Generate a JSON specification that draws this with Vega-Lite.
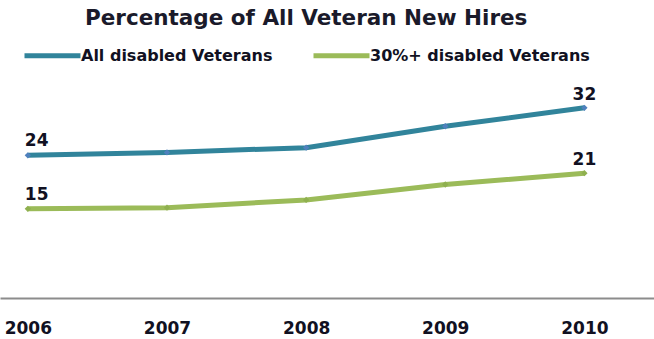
{
  "$schema": "https://vega.github.io/schema/vega-lite/v6.json",
  "width": 654,
  "height": 208,
  "autosize": {"type": "none"},
  "padding": {"left": 0, "top": 90, "right": 0, "bottom": 41},
  "background": "white",
  "title": {
    "text": "Percentage of All Veteran New Hires",
    "anchor": "start",
    "frame": "group",
    "dx": 85,
    "offset": -4,
    "font": "DejaVu Sans",
    "fontSize": 21.5,
    "fontWeight": "bold",
    "color": "#1a1a2a"
  },
  "config": {"view": {"stroke": null}},
  "data": {
    "values": [
      {"year": 2006, "series": "All disabled Veterans", "value": 24},
      {"year": 2007, "series": "All disabled Veterans", "value": 24.5},
      {"year": 2008, "series": "All disabled Veterans", "value": 25.3},
      {"year": 2009, "series": "All disabled Veterans", "value": 28.9},
      {"year": 2010, "series": "All disabled Veterans", "value": 32},
      {"year": 2006, "series": "30%+ disabled Veterans", "value": 15},
      {"year": 2007, "series": "30%+ disabled Veterans", "value": 15.2},
      {"year": 2008, "series": "30%+ disabled Veterans", "value": 16.5},
      {"year": 2009, "series": "30%+ disabled Veterans", "value": 19.1},
      {"year": 2010, "series": "30%+ disabled Veterans", "value": 21}
    ]
  },
  "encoding": {
    "x": {
      "field": "year",
      "type": "quantitative",
      "scale": {"domain": [2005.8, 2010.5], "nice": false, "zero": false},
      "axis": {
        "values": [2006, 2007, 2008, 2009, 2010],
        "format": "d",
        "title": null,
        "grid": false,
        "ticks": false,
        "domain": true,
        "domainColor": "#8c8c8c",
        "domainWidth": 2,
        "labelFont": "DejaVu Sans",
        "labelFontWeight": "bold",
        "labelFontSize": 17,
        "labelColor": "#111122",
        "labelPadding": 22,
        "labelFlush": false
      }
    },
    "y": {
      "field": "value",
      "type": "quantitative",
      "scale": {"domain": [0, 35], "nice": false},
      "axis": null
    }
  },
  "layer": [
    {
      "mark": {"type": "line", "strokeWidth": 5},
      "encoding": {
        "color": {
          "field": "series",
          "type": "nominal",
          "scale": {
            "domain": ["All disabled Veterans", "30%+ disabled Veterans"],
            "range": ["#31849b", "#9bbb59"]
          },
          "legend": {
            "orient": "none",
            "legendX": 22,
            "legendY": -65,
            "direction": "horizontal",
            "title": null,
            "symbolType": "stroke",
            "symbolSize": 3136,
            "symbolStrokeWidth": 5,
            "labelFont": "DejaVu Sans",
            "labelFontWeight": "bold",
            "labelFontSize": 16,
            "labelColor": "#111122",
            "labelOffset": -2,
            "labelLimit": 400,
            "columnPadding": 30
          }
        }
      }
    },
    {
      "mark": {"type": "point", "shape": "diamond", "filled": true, "size": 40, "opacity": 1},
      "encoding": {
        "color": {
          "field": "series",
          "type": "nominal",
          "scale": {
            "domain": ["All disabled Veterans", "30%+ disabled Veterans"],
            "range": ["#4f81bd", "#8fb04f"]
          },
          "legend": null
        }
      }
    },
    {
      "transform": [{"filter": "datum.year == 2006"}],
      "mark": {"type": "text", "align": "left", "dx": -3, "dy": -14, "font": "DejaVu Sans", "fontWeight": "bold", "fontSize": 17, "color": "#111122"},
      "encoding": {"text": {"field": "value", "type": "quantitative", "format": "d"}}
    },
    {
      "transform": [{"filter": "datum.year == 2010"}],
      "mark": {"type": "text", "align": "center", "dy": -13, "font": "DejaVu Sans", "fontWeight": "bold", "fontSize": 17, "color": "#111122"},
      "encoding": {"text": {"field": "value", "type": "quantitative", "format": "d"}}
    }
  ],
  "resolve": {"scale": {"color": "independent"}}
}
